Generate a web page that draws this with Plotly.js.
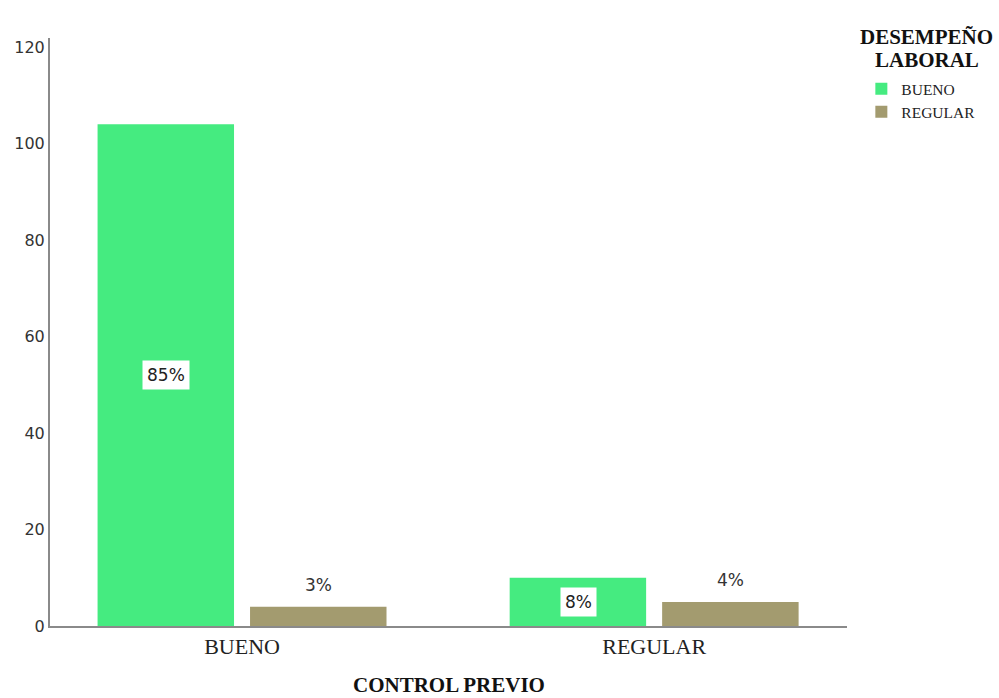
<!DOCTYPE html>
<html>
<head>
<meta charset="utf-8">
<script src="https://cdn.plot.ly/plotly-3.0.1.min.js"></script>
<style>html,body{margin:0;padding:0;background:#fff;}#chart{width:999px;height:698px;}</style>
</head>
<body>
<div id="chart"></div>
<script>
const categories = ["BUENO", "REGULAR"];
const seriesNames = ["BUENO", "REGULAR"];
const buenoValues = [104, 10];
const regularValues = [4, 5];
const buenoPct = ["85%", "8%"];
const regularPct = ["3%", "4%"];
const yTicks = [0, 20, 40, 60, 80, 100, 120];
const legendTitleLines = ["DESEMPEÑO", "LABORAL"];
const xTitle = "CONTROL PREVIO";

const colors = ["#45EB80", "#A39B6F"];
const serif = "Liberation Serif";
const sans = "DejaVu Sans";

const traces = [
  {type: "bar", name: seriesNames[0], x: categories, y: buenoValues,
   marker: {color: colors[0]}, hoverinfo: "none"},
  {type: "bar", name: seriesNames[1], x: categories, y: regularValues,
   marker: {color: colors[1]}, hoverinfo: "none"}
];

const annotations = [];
categories.forEach((c, i) => {
  annotations.push({x: c, y: buenoValues[i] / 2, xref: "x", yref: "y", xshift: -76,
    text: buenoPct[i], showarrow: false, bgcolor: "#ffffff", borderpad: 4,
    font: {family: sans, size: 17, color: "#222"}});
  annotations.push({x: c, y: regularValues[i], xref: "x", yref: "y", xshift: 76, yanchor: "bottom", yshift: 10,
    text: regularPct[i], showarrow: false,
    font: {family: sans, size: 17, color: "#333"}});
});
const titleY = [1.0017, 0.9626];
legendTitleLines.forEach((t, i) => {
  annotations.push({x: 1.1, y: titleY[i], xref: "paper", yref: "paper", xanchor: "center", yanchor: "middle",
    text: "<b>" + t + "</b>", showarrow: false,
    font: {family: serif, size: 21, color: "#111"}});
});
annotations.push({x: 0.5, y: -0.1, xref: "paper", yref: "paper", xanchor: "center", yanchor: "middle",
  text: "<b>" + xTitle + "</b>", showarrow: false,
  font: {family: serif, size: 21, color: "#111"}});

const layout = {
  width: 999, height: 698,
  margin: {l: 50, r: 152, t: 38, b: 72},
  paper_bgcolor: "#ffffff", plot_bgcolor: "#ffffff",
  barmode: "group", bargap: 0.26, bargroupgap: 0.105,
  showlegend: true,
  xaxis: {type: "category", range: [-0.466, 1.468], showline: true, linecolor: "#8a8a8a", linewidth: 2,
    ticks: "", showgrid: false, zeroline: false,
    tickfont: {family: serif, size: 22, color: "#222"}},
  yaxis: {range: [0, 121.9], tickvals: yTicks, showline: true, linecolor: "#8a8a8a", linewidth: 2,
    ticks: "", showgrid: false, zeroline: false,
    tickfont: {family: sans, size: 16, color: "#333"}},
  legend: {x: 1.018, y: 0.942, xanchor: "left", yanchor: "top",
    font: {family: serif, size: 15.5, color: "#222"}, itemwidth: 30, tracegroupgap: 0},
  annotations: annotations
};

Plotly.newPlot("chart", traces, layout, {displayModeBar: false, staticPlot: true});
</script>
</body>
</html>
